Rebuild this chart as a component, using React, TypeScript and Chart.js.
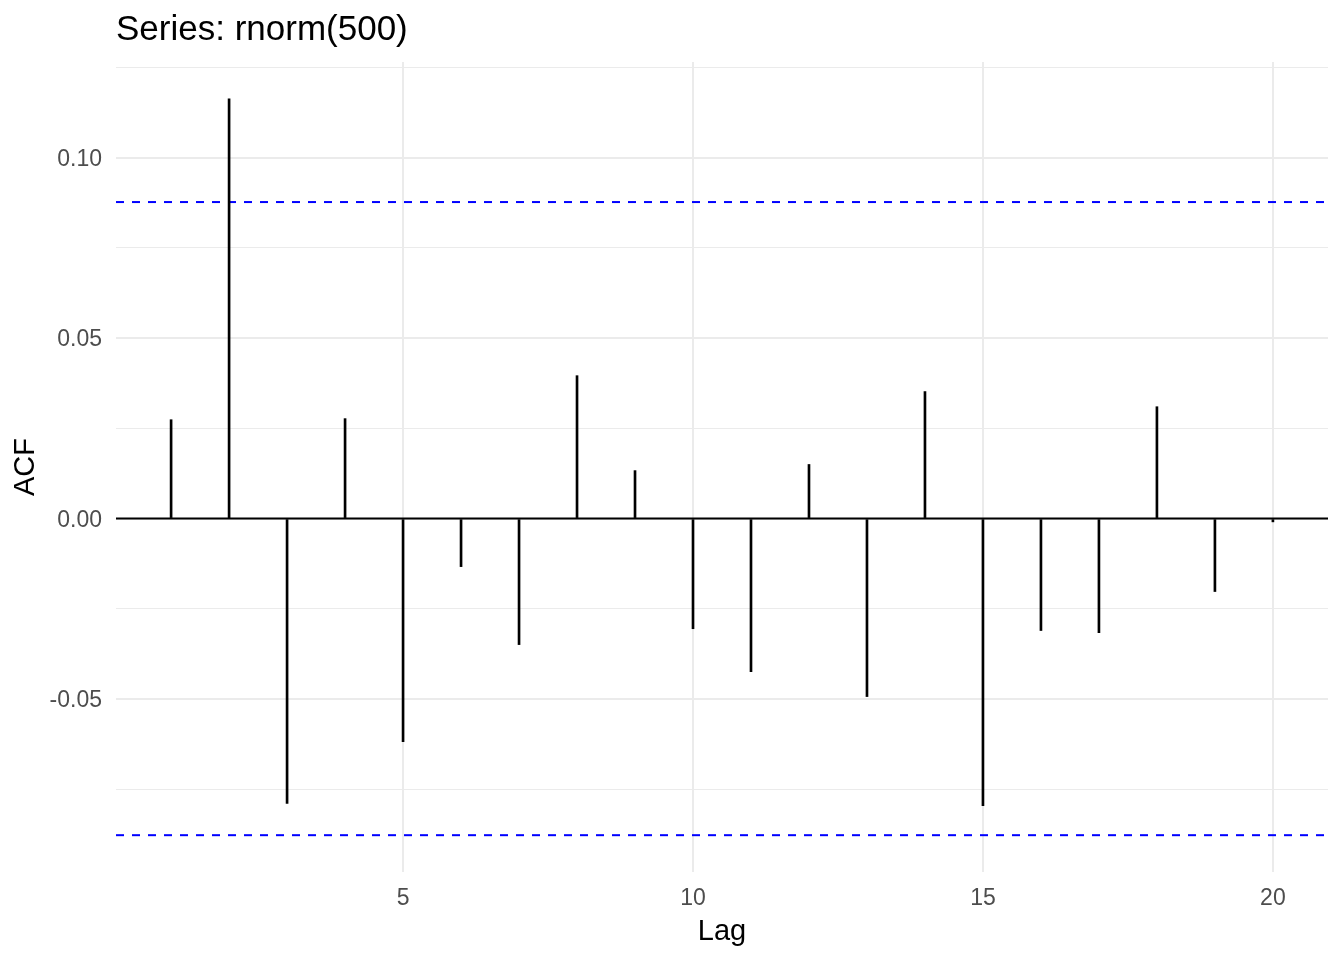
import React, { useEffect, useRef } from 'react';
import { Chart, registerables } from 'chart.js';

Chart.register(...registerables);

const lags = [1, 2, 3, 4, 5, 6, 7, 8, 9, 10, 11, 12, 13, 14, 15, 16, 17, 18, 19, 20];
const acfValues = [
  0.0274, 0.1163, -0.0789, 0.0277, -0.0618, -0.0133, -0.0349, 0.0396, 0.0133, -0.0305,
  -0.0424, 0.015, -0.0493, 0.0352, -0.0795, -0.031, -0.0316, 0.031, -0.0202, -0.0009,
];
const ciBound = 0.0877;
const xRange = [0.05, 20.95];
const yRange = [-0.0979, 0.1265];
const xTicks = [5, 10, 15, 20];
const yTicks = [-0.075, -0.05, -0.025, 0, 0.025, 0.05, 0.075, 0.1, 0.125];

const FONT = '"Liberation Sans", Arial, sans-serif';

const isMajorY = (v: number) => Math.abs(v * 20 - Math.round(v * 20)) < 1e-6;

export default function App() {
  const canvasRef = useRef<HTMLCanvasElement | null>(null);

  useEffect(() => {
    if (!canvasRef.current) return;
    const chart = new Chart(canvasRef.current, {
      type: 'bar',
      data: {
        datasets: [
          {
            type: 'bar',
            data: lags.map((l, i) => ({ x: l, y: acfValues[i] })),
            backgroundColor: '#000000',
            borderWidth: 0,
            barThickness: 2,
          } as any,
          {
            type: 'line',
            data: [
              { x: xRange[0], y: 0 },
              { x: xRange[1], y: 0 },
            ],
            borderColor: '#000000',
            borderWidth: 2,
            pointRadius: 0,
          } as any,
          {
            type: 'line',
            data: [
              { x: xRange[0], y: ciBound },
              { x: xRange[1], y: ciBound },
            ],
            borderColor: '#0000FF',
            borderWidth: 2,
            borderDash: [8, 8],
            pointRadius: 0,
          } as any,
          {
            type: 'line',
            data: [
              { x: xRange[0], y: -ciBound },
              { x: xRange[1], y: -ciBound },
            ],
            borderColor: '#0000FF',
            borderWidth: 2,
            borderDash: [8, 8],
            pointRadius: 0,
          } as any,
        ],
      },
      options: {
        responsive: false,
        animation: false,
        events: [],
        layout: { padding: { left: 0, right: 16, top: 0, bottom: 0 } },
        plugins: {
          legend: { display: false },
          tooltip: { enabled: false },
          title: {
            display: true,
            text: 'Series: rnorm(500)',
            align: 'start',
            fullSize: false,
            color: '#000000',
            font: { family: FONT, size: 35, weight: 'normal', lineHeight: 1.2 },
            padding: { top: 9.5, bottom: 10.5 },
          },
        },
        scales: {
          x: {
            type: 'linear',
            min: xRange[0],
            max: xRange[1],
            offset: false,
            border: { display: false },
            grid: { offset: false, color: '#EBEBEB', lineWidth: 2, drawTicks: false },
            afterBuildTicks: (scale: any) => {
              scale.ticks = xTicks.map((v) => ({ value: v }));
            },
            afterFit: (scale: any) => {
              scale.height = 88;
            },
            ticks: {
              autoSkip: false,
              maxRotation: 0,
              padding: 13,
              color: '#4D4D4D',
              font: { family: FONT, size: 23, lineHeight: 1.2 },
            },
            title: {
              display: true,
              text: 'Lag',
              color: '#000000',
              font: { family: FONT, size: 29, lineHeight: 1.2 },
              padding: { top: 0, bottom: 11 },
            },
          },
          y: {
            type: 'linear',
            min: yRange[0],
            max: yRange[1],
            border: { display: false },
            grid: {
              color: '#EBEBEB',
              lineWidth: (ctx: any) => (isMajorY(ctx.tick.value) ? 2 : 1),
              drawTicks: false,
            },
            afterBuildTicks: (scale: any) => {
              scale.ticks = yTicks.map((v) => ({ value: v }));
            },
            afterFit: (scale: any) => {
              scale.width = 116;
            },
            ticks: {
              autoSkip: false,
              padding: 14,
              labelOffset: 2,
              color: '#4D4D4D',
              font: { family: FONT, size: 23, lineHeight: 1.2 },
              callback: (value: any) => {
                const v = Number(value);
                return isMajorY(v) ? v.toFixed(2) : '';
              },
            },
            title: {
              display: true,
              text: 'ACF',
              color: '#000000',
              font: { family: FONT, size: 29, lineHeight: 1.2 },
              padding: { top: 9, bottom: 0 },
            },
          },
        },
      } as any,
    });
    return () => chart.destroy();
  }, []);

  return (
    <div style={{ position: 'absolute', left: 0, top: 0, width: 1344, height: 960, background: '#ffffff' }}>
      <canvas ref={canvasRef} width={1344} height={960} style={{ display: 'block' }} />
    </div>
  );
}
